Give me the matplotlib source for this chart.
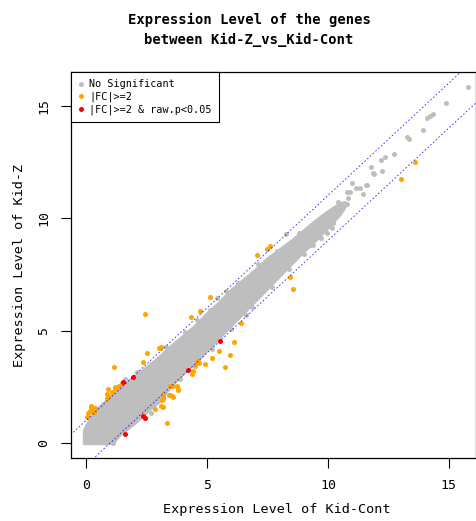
import matplotlib
matplotlib.use("Agg")
import matplotlib.pyplot as plt
import numpy as np

# dense core of the "No Significant" cloud: control level vs lower/upper Kid-Z level
core_x = [-0.08, 0.0, 0.2, 0.5, 0.8, 1.0, 1.2, 1.4, 1.7, 2.0, 2.3, 2.6, 3.0, 3.5,
          4.0, 4.5, 5.0, 5.5, 6.0, 6.5, 7.0, 7.5, 8.0, 8.5, 9.0, 9.5, 10.0, 10.5, 10.7]
core_lo = [0.0, 0.0, 0.0, 0.0, 0.0, 0.0, 0.15, 0.4, 0.65, 0.9, 1.2, 1.5, 1.85, 2.55,
           3.1, 3.6, 4.15, 4.7, 5.25, 5.8, 6.35, 6.9, 7.45, 8.0, 8.55, 9.05, 9.6, 10.2, 10.55]
core_hi = [0.55, 0.75, 1.15, 1.55, 1.85, 2.05, 2.25, 2.45, 2.7, 2.95, 3.2, 3.45, 3.8, 4.3,
           4.75, 5.2, 5.75, 6.25, 6.8, 7.25, 7.7, 8.2, 8.6, 9.0, 9.45, 9.9, 10.3, 10.65, 10.7]

# scattered grey genes outside / on the rim of the dense core
grey_x = [10.43, 10.5, 10.77, 10.77, 10.84, 10.91, 11.0, 11.18, 11.32, 11.43, 11.57, 11.62,
          11.76, 11.87, 11.9, 12.19, 12.22, 12.36, 12.73, 13.25, 13.36, 13.94, 14.08, 14.21,
          14.35, 14.9, 15.8, 10.19, 10.15, 9.95, 8.26, 7.49, 8.02, 7.33, 6.85, 5.67, 5.43,
          5.12, 10.47, 9.26,
          3.3, 2.1, 4.6, 6.3, 5.8, 7.9, 8.8, 2.7, 3.9, 5.2, 6.6, 7.7, 9.0, 9.7, 1.1, 0.95,
          1.6, 4.1, 7.1, 8.4, 9.4, 3.6, 6.0]
grey_y = [10.72, 10.36, 10.62, 11.14, 10.88, 11.17, 11.57, 11.32, 11.32, 11.08, 11.47, 11.47,
          12.25, 11.99, 11.94, 12.56, 12.1, 12.7, 12.83, 13.61, 13.51, 13.91, 14.46, 14.55,
          14.61, 15.1, 15.84, 9.79, 9.54, 9.32, 9.29, 8.13, 7.54, 6.8, 6.06, 6.36, 6.46,
          5.91, 10.28, 8.8,
          4.25, 3.15, 5.45, 7.1, 6.75, 8.55, 9.35, 1.35, 2.85, 4.2, 5.7, 6.95, 8.4, 9.1, 0.0, 0.05,
          2.85, 4.95, 7.95, 7.75, 8.8, 2.55, 5.05]

# |FC|>=2
orange_x = [0.05, 0.1, 0.17, 0.19, 0.28, 0.33, 0.37, 0.21, 0.85, 0.9, 0.85, 0.92, 1.06, 1.2,
            1.2, 1.34, 1.38, 1.47, 1.16, 2.34, 2.51, 3.03, 3.09, 2.44, 4.33, 4.71, 5.12, 7.05,
            7.49, 7.6,
            3.33, 2.85, 3.09, 3.17, 3.13, 3.17, 3.2, 3.2, 3.44, 3.47, 3.57, 3.61, 3.47, 3.54,
            3.75, 3.81, 3.81, 4.37, 4.43, 4.5, 4.57, 4.64, 4.92, 5.19, 5.5, 5.74, 5.95, 6.13,
            6.39, 4.68, 8.43, 8.57, 13.03, 13.58]
orange_y = [1.14, 1.35, 1.42, 1.64, 1.47, 1.39, 1.54, 1.61, 1.99, 2.09, 2.16, 2.4, 2.28, 2.43,
            2.47, 2.5, 2.53, 2.68, 3.39, 3.6, 3.98, 4.21, 4.28, 5.73, 5.59, 5.87, 6.49, 8.36,
            8.62, 8.77,
            0.9, 1.51, 1.64, 1.61, 1.91, 1.94, 2.06, 2.16, 2.13, 2.13, 2.09, 2.06, 2.53, 2.53,
            2.55, 2.36, 2.39, 3.05, 3.21, 3.44, 3.61, 3.64, 3.51, 3.78, 4.09, 3.36, 3.91, 4.5,
            5.32, 3.54, 7.39, 6.86, 11.75, 12.47]

# |FC|>=2 & raw.p<0.05
red_x = [1.63, 2.37, 2.44, 1.52, 1.93, 4.23, 5.54]
red_y = [0.38, 1.2, 1.1, 2.7, 2.95, 3.23, 4.55]

fc_cut = 1  # log2 fold change of 2
legend_labels = ["No Significant", "|FC|>=2", "|FC|>=2 & raw.p<0.05"]

grey = "#BEBEBE"
mono = "DejaVu Sans Mono"

fig = plt.figure(figsize=(4.77, 5.21), dpi=100)
ax = fig.add_axes([71 / 477, 1 - 458 / 521, 405 / 477, 386 / 521])

ax.fill_between(core_x, core_lo, core_hi, color=grey, lw=2.5, edgecolor=grey, zorder=1)
ax.scatter(grey_x, grey_y, s=13, color=grey, lw=0, zorder=2)
ax.scatter(orange_x, orange_y, s=13, color="orange", lw=0, zorder=3)
ax.scatter(red_x, red_y, s=13, color="red", lw=0, zorder=4)

xlim = (-0.62, 16.12)
ylim = (-0.667, 16.49)
lx = np.array([-2, 18])
ax.plot(lx, lx + fc_cut, color="blue", lw=0.6, ls=(0, (2, 2.5)), alpha=0.85, zorder=5)
ax.plot(lx, lx - fc_cut, color="blue", lw=0.6, ls=(0, (2, 2.5)), alpha=0.85, zorder=5)
ax.set_xlim(xlim)
ax.set_ylim(ylim)

ax.set_xticks([0, 5, 10, 15])
ax.set_yticks([0, 5, 10, 15])
ax.tick_params(length=7, width=0.8, labelsize=9.5, pad=8)
for lab in ax.get_xticklabels() + ax.get_yticklabels():
    lab.set_family(mono)
for lab in ax.get_yticklabels():
    lab.set_rotation(90)
    lab.set_va("center")
for sp in ax.spines.values():
    sp.set_linewidth(0.9)

fig.text(249 / 477, 1 - 30 / 521, "Expression Level of the genes\nbetween Kid-Z_vs_Kid-Cont",
         ha="center", va="center", family=mono, weight="bold", fontsize=10, linespacing=1.45)
fig.text(277 / 477, 1 - 510 / 521, "Expression Level of Kid-Cont",
         ha="center", va="center", family=mono, fontsize=9.7)
fig.text(20 / 477, 1 - 265 / 521, "Expression Level of Kid-Z", rotation=90,
         ha="center", va="center", family=mono, fontsize=9.7)

handles = [plt.Line2D([], [], ls="", marker="o", ms=3.6, mew=0, color=c)
           for c in [grey, "orange", "red"]]
leg = ax.legend(handles, legend_labels, loc="upper left", borderaxespad=0,
                prop={"family": mono, "size": 7.3}, handlelength=0.6, handletextpad=0.5,
                labelspacing=0.25, borderpad=0.7, fancybox=False, framealpha=1)
leg.get_frame().set_edgecolor("black")
leg.get_frame().set_linewidth(0.8)

fig.savefig("out.png", dpi=100)
